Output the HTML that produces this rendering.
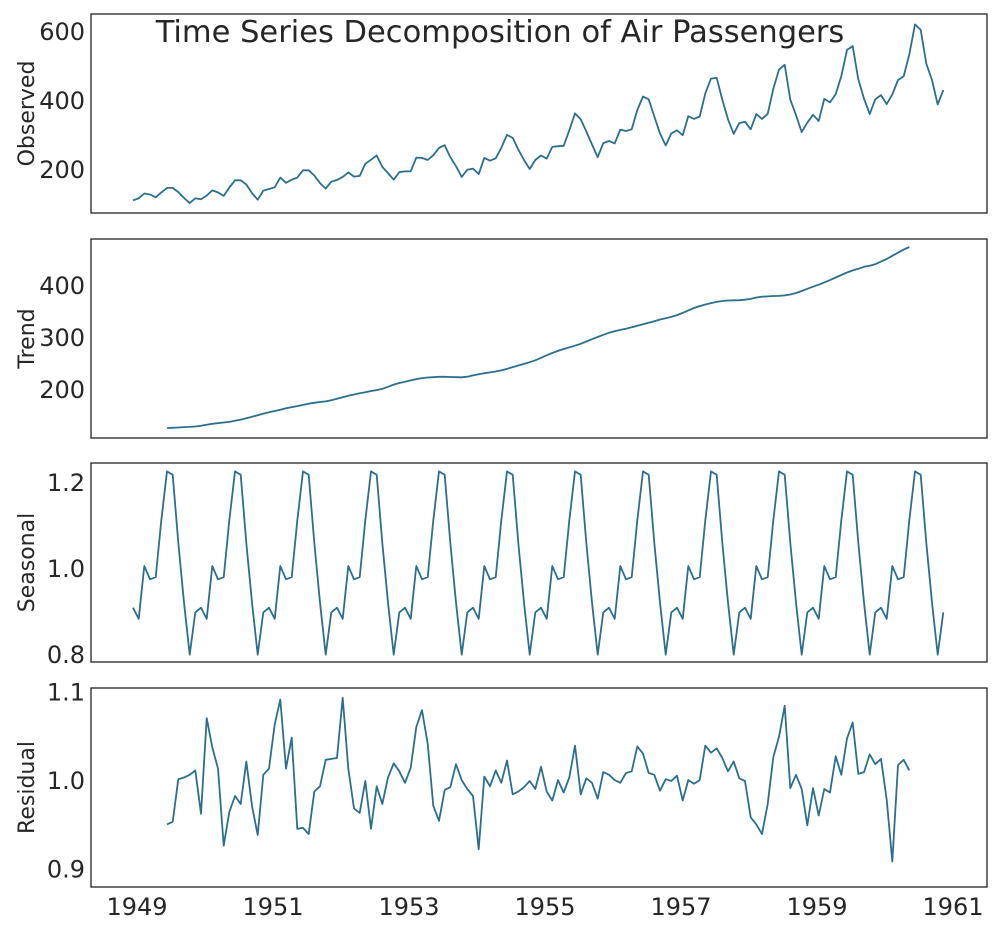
<!DOCTYPE html>
<html><head><meta charset="utf-8">
<style>
html,body{margin:0;padding:0;background:#fff;}
svg{display:block;font-family:"DejaVu Sans","Liberation Sans",sans-serif;}
</style></head>
<body>
<svg id="chart" width="1000" height="927" viewBox="0 0 1000 927"></svg>
<script>
const observed=[112,118,132,129,121,135,148,148,136,119,104,118,
115,126,141,135,125,149,170,170,158,133,114,140,
145,150,178,163,172,178,199,199,184,162,146,166,
171,180,193,181,183,218,230,242,209,191,172,194,
196,196,236,235,229,243,264,272,237,211,180,201,
204,188,235,227,234,264,302,293,259,229,203,229,
242,233,267,269,270,315,364,347,312,274,237,278,
284,277,317,313,318,374,413,405,355,306,271,306,
315,301,356,348,355,422,465,467,404,347,305,336,
340,318,362,348,363,435,491,505,404,359,310,337,
360,342,406,396,420,472,548,559,463,407,362,405,
417,391,419,461,472,535,622,606,508,461,390,432];
const trend=[126.79,127.25,127.96,128.58,129.00,129.75,131.25,133.08,134.92,136.42,137.42,138.75,
140.92,143.17,145.71,148.42,151.54,154.71,157.13,159.54,161.83,164.79,167.21,169.08,
171.25,173.58,175.46,176.83,178.04,180.17,183.13,186.21,189.04,191.29,193.58,195.83,
198.04,199.75,202.21,206.25,210.42,213.38,215.83,218.50,220.92,222.92,224.08,224.71,
225.33,225.33,224.96,224.58,224.46,225.54,228.00,230.46,232.25,233.92,235.63,237.75,
240.50,243.96,247.17,250.25,253.50,257.13,261.83,266.67,271.13,275.21,278.83,282.00,
285.13,288.88,293.25,297.67,301.96,306.17,309.96,313.13,315.50,317.92,320.63,323.50,
326.33,329.21,332.33,335.50,337.79,340.54,344.08,348.25,353.00,357.63,361.38,364.50,
367.17,369.46,371.21,372.17,372.42,372.75,373.63,375.25,377.92,379.50,380.00,380.71,
380.96,381.83,383.67,386.50,390.33,394.71,398.63,402.54,406.96,411.29,416.33,421.08,
426,430,433,437,439,442,447,452,458,464,470,475];
const seasonalFactors=[0.910,0.884,1.007,0.976,0.981,1.113,1.227,1.219,1.061,0.922,0.801,0.899];
const residual=[0.951,0.954,1.002,1.004,1.007,1.012,0.963,1.071,1.038,1.014,0.927,0.965,
0.983,0.974,1.022,0.972,0.939,1.007,1.014,1.064,1.092,1.014,1.049,0.946,
0.947,0.940,0.988,0.994,1.024,1.025,1.026,1.094,1.014,0.969,0.964,1.000,
0.946,0.994,0.974,1.004,1.020,1.011,0.998,1.015,1.061,1.080,1.042,0.972,
0.955,0.990,0.993,1.019,1.001,0.991,0.983,0.923,1.005,0.994,1.012,0.998,
1.023,0.985,0.988,0.993,1.000,0.991,1.016,0.988,0.978,1.001,0.987,1.004,
1.040,0.985,1.003,0.998,0.980,1.010,1.007,1.001,0.998,1.009,1.011,1.039,
1.031,1.009,1.007,0.989,1.002,1.000,1.006,0.978,1.001,0.997,1.001,1.040,
1.032,1.037,1.026,1.011,1.022,1.003,1.000,0.959,0.951,0.940,0.974,1.027,
1.050,1.085,0.992,1.007,0.991,0.950,0.992,0.961,0.991,0.987,1.028,1.007,
1.048,1.066,1.008,1.010,1.030,1.019,1.025,0.979,0.909,1.018,1.024,1.012];
const xTickLabels=[1949,1951,1953,1955,1957,1959,1961];
const obsTicks=[200,400,600], trendTicks=[200,300,400], seasTicks=[0.8,1.0,1.2], residTicks=[0.9,1.0,1.1];
const startYear=1949;

const NS="http://www.w3.org/2000/svg";
const svg=document.getElementById('chart');
const X0=91,X1=987;
function xs(t){return 133+(t-1949)*68;}
function mk(tag,attrs,parent){const e=document.createElementNS(NS,tag);for(const k in attrs)e.setAttribute(k,attrs[k]);(parent||svg).appendChild(e);return e;}

const panels=[
 {name:'observed',label:'Observed',top:14,bot:213,y:v=>170-(v-200)*0.345,ticks:obsTicks,fmt:v=>String(v),vals:observed,off:0},
 {name:'trend',label:'Trend',top:239,bot:438,y:v=>390-(v-200)*0.52,ticks:trendTicks,fmt:v=>String(v),vals:trend,off:6},
 {name:'seasonal',label:'Seasonal',top:463,bot:662,y:v=>569-(v-1.0)*430,ticks:seasTicks,fmt:v=>v.toFixed(1),vals:observed.map((_,i)=>seasonalFactors[i%12]),off:0},
 {name:'residual',label:'Residual',top:688,bot:887,y:v=>781-(v-1.0)*885,ticks:residTicks,fmt:v=>v.toFixed(1),vals:residual,off:6}
];
panels.forEach(p=>{
  const g=mk('g',{});
  
  
  const r=mk('rect',{x:X0,y:p.top,width:X1-X0,height:p.bot-p.top,fill:'none',stroke:'#222','stroke-width':1.3},g);
  
  
  p.ticks.forEach(t=>{
    const tx=mk('text',{x:X0-6,y:p.y(t)+8,'text-anchor':'end','font-size':24,fill:'#262626'},g);
    tx.textContent=p.fmt(t);
    
    
  });
  const cy=(p.top+p.bot)/2;
  const yl=mk('text',{x:0,y:0,transform:`translate(34,${cy}) rotate(-90)`,'text-anchor':'middle','font-size':22,fill:'#262626'},g);
  yl.textContent=p.label;
  
  
  const pts=p.vals.map((v,i)=>xs(startYear+(i+p.off)/12).toFixed(1)+','+p.y(v).toFixed(1)).join(' ');
  const pl=mk('polyline',{points:pts,fill:'none',stroke:'#2b6f8e','stroke-width':1.8,'stroke-linejoin':'round'},g);
  
  
});
xTickLabels.forEach(yv=>{
  const t=mk('text',{x:xs(yv)+4,y:915,'text-anchor':'middle','font-size':24,fill:'#262626'});
  t.textContent=String(yv);
  
  
});
const title=mk('text',{x:500,y:42,'text-anchor':'middle','font-size':30.5,fill:'#262626'});
title.textContent='Time Series Decomposition of Air Passengers';


</script>
</body></html>
